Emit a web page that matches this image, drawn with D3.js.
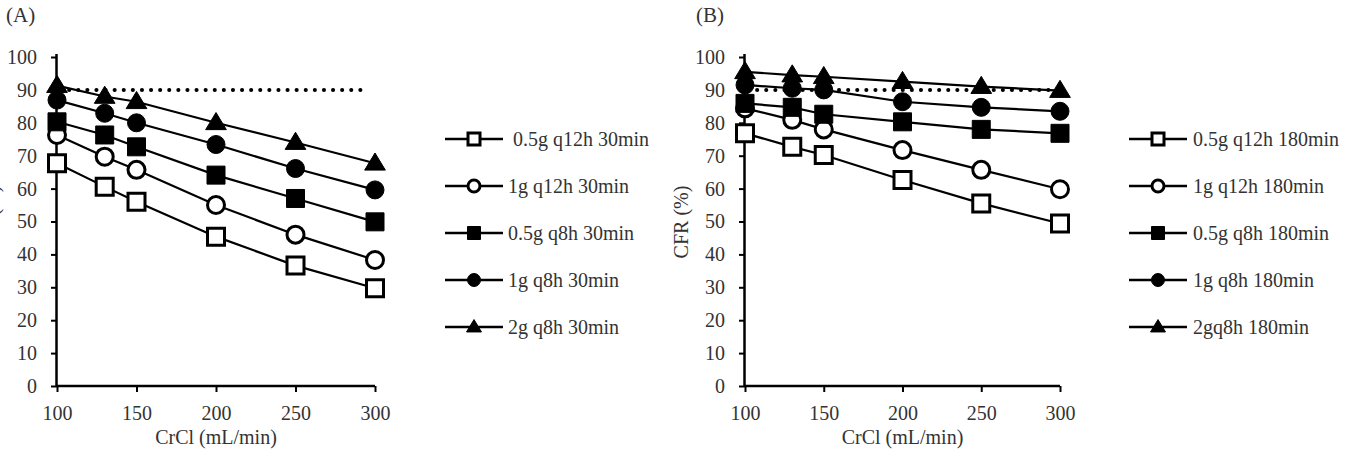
<!DOCTYPE html>
<html>
<head>
<meta charset="utf-8">
<script src="https://cdn.jsdelivr.net/npm/d3@7"></script>
<style>
  body { margin: 0; background: #fff; }
  svg text { font-family: "Liberation Serif", "Times New Roman", serif; fill: #333; }
</style>
</head>
<body>
<svg id="chart" width="1350" height="462"></svg>
<script>
// Data
const crcl = [100, 130, 150, 200, 250, 300];
const xTicks = [100, 150, 200, 250, 300];
const yTicks = [0, 10, 20, 30, 40, 50, 60, 70, 80, 90, 100];
const target = 90;

// Panel A: 30 min infusion
const a05q12 = [67.7, 60.6, 56.0, 45.4, 36.6, 29.7];
const a1q12 = [76.3, 69.7, 65.7, 55.0, 46.0, 38.3];
const a05q8 = [80.3, 76.3, 72.7, 64.1, 57.0, 49.9];
const a1q8 = [86.9, 82.9, 80.0, 73.4, 66.1, 59.6];
const a2q8 = [91.3, 88.0, 86.4, 80.0, 74.0, 67.7];
const labelsA = [" 0.5g q12h 30min", "1g q12h 30min", "0.5g q8h 30min", "1g q8h 30min", "2g q8h 30min"];

// Panel B: 180 min infusion
const b05q12 = [76.8, 72.7, 70.2, 62.6, 55.5, 49.4];
const b1q12 = [84.4, 80.9, 78.0, 71.7, 65.7, 59.8];
const b05q8 = [85.9, 84.7, 82.6, 80.3, 78.0, 76.8];
const b1q8 = [91.5, 90.5, 90.0, 86.4, 84.7, 83.5];
const b2q8 = [95.5, 94.5, 94.0, 92.5, 91.0, 89.8];
const labelsB = ["0.5g q12h 180min", "1g q12h 180min", "0.5g q8h 180min", "1g q8h 180min", "2gq8h 180min"];

// marker kind per series (same order in both panels)
const markers = ["openSquare", "openCircle", "square", "circle", "triangle"];

/**************************************************************************************************/
const svg = d3.select("#chart");

drawPanel({
    title: "(A)", titleX: 6,
    x0: 57, x1: 375, yLabelX: -1, dotEnd: 369,
    series: [a05q12, a1q12, a05q8, a1q8, a2q8], labels: labelsA,
    legX: 445, legTextX: 508
});
drawPanel({
    title: "(B)", titleX: 696,
    x0: 745, x1: 1060, yLabelX: 688, dotEnd: 1058,
    series: [b05q12, b1q12, b05q8, b1q8, b2q8], labels: labelsB,
    legX: 1129, legTextX: 1193
});

function markerPath(kind, size) {
    if (kind === "openSquare" || kind === "square") return d3.symbol(d3.symbolSquare, size * size)();
    if (kind === "openCircle" || kind === "circle") return d3.symbol(d3.symbolCircle, Math.PI * size * size / 4)();
    const h = size * 0.95, w = size * 1.15;
    return `M0,${-h * 0.6}L${w / 2},${h * 0.4}L${-w / 2},${h * 0.4}Z`;
}

function drawMarker(g, kind, size) {
    const open = kind.startsWith("open");
    g.append("path")
        .attr("d", markerPath(kind, open ? size : size + 1))
        .attr("fill", open ? "#fff" : "#000")
        .attr("stroke", "#000")
        .attr("stroke-width", open ? 3 : 1);
}

function drawPanel(p) {
    const x = d3.scaleLinear().domain([100, 300]).range([p.x0, p.x1]);
    const y = d3.scaleLinear().domain([0, 100]).range([386, 57]);
    const g = svg.append("g");

    g.append("text")
        .attr("x", p.titleX).attr("y", 22)
        .style("font-size", "21px")
        .text(p.title);

    // axes
    const yAxis = g.append("g")
        .attr("transform", `translate(${p.x0},0)`)
        .call(d3.axisLeft(y).tickValues(yTicks).tickSize(6).tickPadding(14));
    const xAxis = g.append("g")
        .attr("transform", "translate(0,386)")
        .call(d3.axisBottom(x).tickValues(xTicks).tickSize(6).tickPadding(14));
    [xAxis, yAxis].forEach(a => {
        a.select(".domain").attr("stroke", "#000").attr("stroke-width", 2.5);
        a.selectAll(".tick line").attr("stroke", "#000").attr("stroke-width", 2);
        a.selectAll(".tick text").style("font-size", "20px").attr("fill", "#333");
    });
    yAxis.select(".domain").attr("d", `M-0.5,54V386`);
    xAxis.select(".domain").attr("d", `M${p.x0},0H${p.x1}`);

    g.append("text")
        .attr("x", (p.x0 + p.x1) / 2).attr("y", 444)
        .attr("text-anchor", "middle")
        .style("font-size", "20px")
        .text("CrCl (mL/min)");

    g.append("text")
        .attr("transform", `translate(${p.yLabelX},222) rotate(-90)`)
        .attr("text-anchor", "middle")
        .style("font-size", "20px")
        .text("CFR (%)");

    // 90% target line
    g.append("line")
        .attr("x1", p.x0 + 3).attr("x2", p.dotEnd)
        .attr("y1", y(target)).attr("y2", y(target))
        .attr("stroke", "#000").attr("stroke-width", 4)
        .attr("stroke-linecap", "round")
        .attr("stroke-dasharray", "0.1 9");

    const line = d3.line().x((d, i) => x(crcl[i])).y(d => y(d));

    p.series.forEach((s, k) => {
        g.append("path")
            .attr("d", line(s))
            .attr("fill", "none").attr("stroke", "#000").attr("stroke-width", 2.2);
    });
    p.series.forEach((s, k) => {
        s.forEach((v, i) => {
            const m = g.append("g").attr("transform", `translate(${x(crcl[i])},${y(v)})`);
            drawMarker(m, markers[k], 17);
        });
    });

    // legend
    const rows = [139, 186, 233, 280, 327];
    p.labels.forEach((lab, k) => {
        const lg = g.append("g").attr("transform", `translate(${p.legX},${rows[k]})`);
        lg.append("line").attr("x1", 0).attr("x2", 58).attr("stroke", "#000").attr("stroke-width", 2.5);
        const m = lg.append("g").attr("transform", "translate(29,0)");
        drawMarker(m, markers[k], 12);
        lg.append("text")
            .attr("x", p.legTextX - p.legX).attr("y", 0)
            .attr("dy", "0.35em")
            .style("font-size", "20px")
            .style("white-space", "pre")
            .text(lab);
    });
}
</script>
</body>
</html>
